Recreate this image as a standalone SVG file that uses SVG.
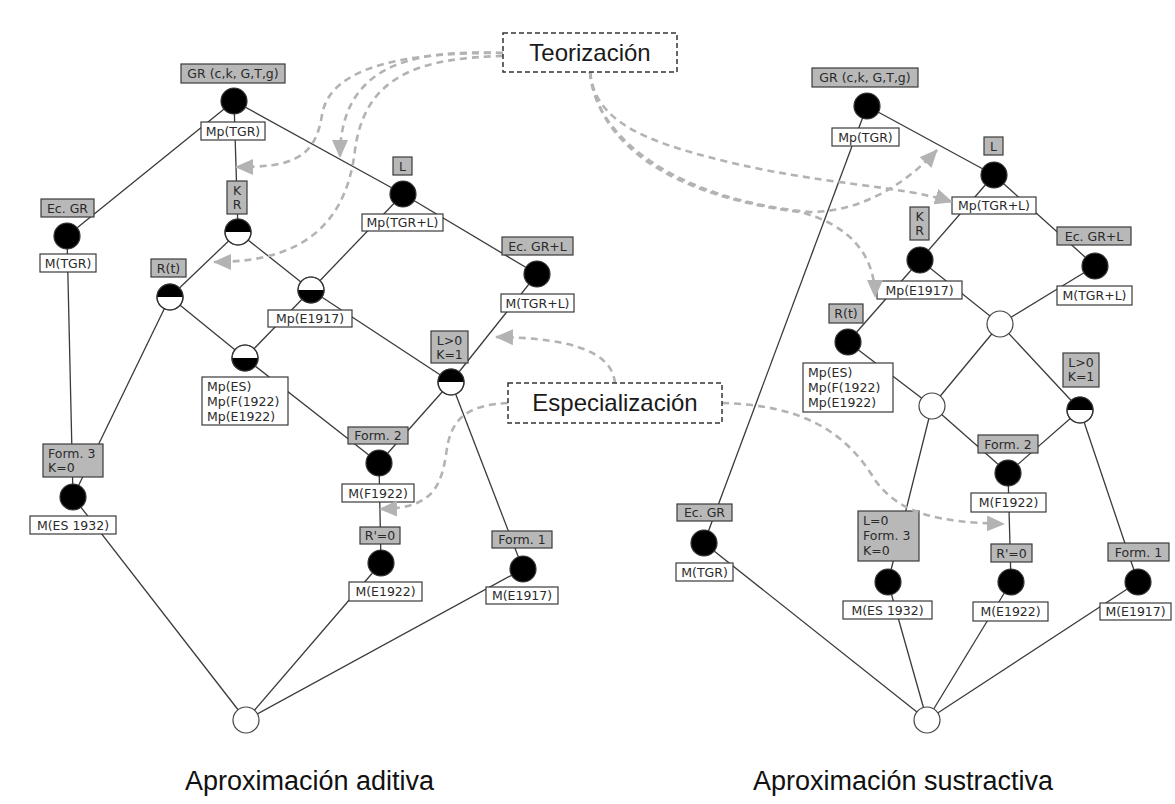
<svg xmlns="http://www.w3.org/2000/svg" width="1175" height="804" viewBox="0 0 1175 804">
<defs>
<style>
.e{stroke:#3a3a3a;stroke-width:1.3;fill:none}
.d{stroke:#b3b3b3;stroke-width:2.6;fill:none;stroke-dasharray:7 5}
.gl{fill:#b8b8b8;stroke:#3a3a3a;stroke-width:1.2}
.wl{fill:#fff;stroke:#3a3a3a;stroke-width:1.2}
.t{font-family:"DejaVu Sans",sans-serif;font-size:12.5px;fill:#2a2a2a;text-anchor:middle}
.tl{font-family:"DejaVu Sans",sans-serif;font-size:12.5px;fill:#2a2a2a}
.bk{fill:#000;stroke:#333;stroke-width:1.2}
.wh{fill:#fff;stroke:#444;stroke-width:1.2}
.hb{fill:#000}
.box{fill:#fff;stroke:#333;stroke-width:1.5;stroke-dasharray:5 3}
.big{font-family:"Liberation Sans",Arial,sans-serif;font-size:24px;fill:#1a1a1a;text-anchor:middle}
.cap{font-family:"Liberation Sans",Arial,sans-serif;font-size:27px;fill:#111}
</style>
<marker id="ah" markerUnits="userSpaceOnUse" markerWidth="18" markerHeight="16" refX="17" refY="8" orient="auto"><path d="M0,0 L18,8 L0,16 Z" fill="#b3b3b3"/></marker>
</defs>
<rect width="1175" height="804" fill="#fff"/>

<g id="connectors">
<line class="e" x1="234" y1="101" x2="67" y2="236"/>
<line class="e" x1="234" y1="101" x2="238" y2="232"/>
<line class="e" x1="234" y1="101" x2="403" y2="194"/>
<line class="e" x1="67" y1="236" x2="73" y2="497"/>
<line class="e" x1="238" y1="232" x2="170" y2="297"/>
<line class="e" x1="238" y1="232" x2="311" y2="290"/>
<line class="e" x1="403" y1="194" x2="311" y2="290"/>
<line class="e" x1="403" y1="194" x2="537" y2="274"/>
<line class="e" x1="170" y1="297" x2="245" y2="358"/>
<line class="e" x1="170" y1="297" x2="73" y2="497"/>
<line class="e" x1="311" y1="290" x2="245" y2="358"/>
<line class="e" x1="311" y1="290" x2="451" y2="382"/>
<line class="e" x1="537" y1="274" x2="451" y2="382"/>
<line class="e" x1="245" y1="358" x2="379" y2="463"/>
<line class="e" x1="451" y1="382" x2="379" y2="463"/>
<line class="e" x1="451" y1="382" x2="523" y2="569"/>
<line class="e" x1="379" y1="463" x2="381" y2="563"/>
<line class="e" x1="73" y1="497" x2="246" y2="720"/>
<line class="e" x1="381" y1="563" x2="246" y2="720"/>
<line class="e" x1="523" y1="569" x2="246" y2="720"/>
<line class="e" x1="867" y1="106" x2="704" y2="543"/>
<line class="e" x1="867" y1="106" x2="994" y2="175"/>
<line class="e" x1="994" y1="175" x2="920" y2="260"/>
<line class="e" x1="994" y1="175" x2="1095" y2="266"/>
<line class="e" x1="920" y1="260" x2="848" y2="342"/>
<line class="e" x1="920" y1="260" x2="1000" y2="324"/>
<line class="e" x1="1095" y1="266" x2="1000" y2="324"/>
<line class="e" x1="848" y1="342" x2="932" y2="406"/>
<line class="e" x1="1000" y1="324" x2="932" y2="406"/>
<line class="e" x1="1000" y1="324" x2="1080" y2="410"/>
<line class="e" x1="932" y1="406" x2="888" y2="582"/>
<line class="e" x1="932" y1="406" x2="1008" y2="473"/>
<line class="e" x1="1080" y1="410" x2="1008" y2="473"/>
<line class="e" x1="1080" y1="410" x2="1138" y2="582"/>
<line class="e" x1="1008" y1="473" x2="1011" y2="582"/>
<line class="e" x1="704" y1="543" x2="927" y2="720"/>
<line class="e" x1="888" y1="582" x2="927" y2="720"/>
<line class="e" x1="1011" y1="582" x2="927" y2="720"/>
<line class="e" x1="1138" y1="582" x2="927" y2="720"/>
</g>

<g id="node-A"><circle class="bk" cx="234" cy="101" r="13"/><rect class="gl" x="181" y="64" width="104" height="19"/><text class="t" x="233" y="78">GR (c,k, G,T,g)</text><rect class="wl" x="201" y="122" width="64" height="18"/><text class="t" x="233" y="135.5">Mp(TGR)</text></g>
<g id="node-B"><circle class="bk" cx="67" cy="236" r="13"/><rect class="gl" x="41" y="199" width="53" height="18"/><text class="t" x="67.5" y="212.5">Ec. GR</text><rect class="wl" x="40" y="254" width="56" height="18"/><text class="t" x="68" y="267.5">M(TGR)</text></g>
<g id="node-C"><circle class="wh" cx="238" cy="232" r="13"/><path class="hb" d="M225,232 A13,13 0 0 1 251,232 Z"/><circle cx="238" cy="232" r="13" fill="none" stroke="#333" stroke-width="1.2"/><rect class="gl" x="227" y="181" width="20" height="33"/><text class="t" x="237" y="195">K</text><text class="t" x="237" y="209">R</text></g>
<g id="node-D"><circle class="bk" cx="403" cy="194" r="13"/><rect class="gl" x="393" y="157" width="19" height="18"/><text class="t" x="402.5" y="170.5">L</text><rect class="wl" x="362" y="214" width="81" height="17"/><text class="t" x="402.5" y="227">Mp(TGR+L)</text></g>
<g id="node-E"><circle class="wh" cx="170" cy="297" r="13"/><path class="hb" d="M157,297 A13,13 0 0 1 183,297 Z"/><circle cx="170" cy="297" r="13" fill="none" stroke="#333" stroke-width="1.2"/><rect class="gl" x="151" y="259" width="35" height="18"/><text class="t" x="168.5" y="272.5">R(t)</text></g>
<g id="node-F"><circle class="wh" cx="311" cy="290" r="13"/><path class="hb" d="M298,290 A13,13 0 0 0 324,290 Z"/><circle cx="311" cy="290" r="13" fill="none" stroke="#333" stroke-width="1.2"/><rect class="wl" x="268" y="310" width="84" height="17"/><text class="t" x="310" y="323">Mp(E1917)</text></g>
<g id="node-G"><circle class="bk" cx="537" cy="274" r="13"/><rect class="gl" x="502" y="237" width="71" height="18"/><text class="t" x="537.5" y="250.5">Ec. GR+L</text><rect class="wl" x="501" y="294" width="73" height="18"/><text class="t" x="537.5" y="307.5">M(TGR+L)</text></g>
<g id="node-H"><circle class="wh" cx="245" cy="358" r="13"/><path class="hb" d="M232,358 A13,13 0 0 0 258,358 Z"/><circle cx="245" cy="358" r="13" fill="none" stroke="#333" stroke-width="1.2"/><rect class="wl" x="202" y="377" width="86" height="48"/><text class="tl" x="207" y="391">Mp(ES)</text><text class="tl" x="207" y="406">Mp(F(1922)</text><text class="tl" x="207" y="421">Mp(E1922)</text></g>
<g id="node-I"><circle class="wh" cx="451" cy="382" r="13"/><path class="hb" d="M438,382 A13,13 0 0 1 464,382 Z"/><circle cx="451" cy="382" r="13" fill="none" stroke="#333" stroke-width="1.2"/><rect class="gl" x="431" y="331" width="37" height="32"/><text class="t" x="449.5" y="344.5">L&gt;0</text><text class="t" x="449.5" y="358.5">K=1</text></g>
<g id="node-J"><circle class="bk" cx="73" cy="497" r="13"/><rect class="gl" x="43" y="444" width="60" height="33"/><text class="tl" x="48" y="457.5">Form. 3</text><text class="tl" x="48" y="471.5">K=0</text><rect class="wl" x="30" y="516" width="86" height="18"/><text class="t" x="73" y="529.5">M(ES 1932)</text></g>
<g id="node-K"><circle class="bk" cx="379" cy="463" r="13"/><rect class="gl" x="348" y="427" width="60" height="17"/><text class="t" x="378" y="440">Form. 2</text><rect class="wl" x="342" y="484" width="72" height="18"/><text class="t" x="378" y="497.5">M(F1922)</text></g>
<g id="node-L"><circle class="bk" cx="381" cy="563" r="13"/><rect class="gl" x="360" y="527" width="40" height="17"/><text class="t" x="380" y="540">R'=0</text><rect class="wl" x="349" y="582" width="73" height="19"/><text class="t" x="385.5" y="596">M(E1922)</text></g>
<g id="node-M"><circle class="bk" cx="523" cy="569" r="13"/><rect class="gl" x="492" y="531" width="60" height="17"/><text class="t" x="522" y="544">Form. 1</text><rect class="wl" x="486" y="587" width="72" height="17"/><text class="t" x="522" y="600">M(E1917)</text></g>
<g id="node-Z"><circle class="wh" cx="246" cy="720" r="13"/></g>

<g id="node-A2"><circle class="bk" cx="867" cy="106" r="13"/><rect class="gl" x="812" y="68" width="106" height="19"/><text class="t" x="865" y="82">GR (c,k, G,T,g)</text><rect class="wl" x="832" y="128" width="67" height="18"/><text class="t" x="865.5" y="141.5">Mp(TGR)</text></g>
<g id="node-D2"><circle class="bk" cx="994" cy="175" r="13"/><rect class="gl" x="984" y="137" width="19" height="18"/><text class="t" x="993.5" y="150.5">L</text><rect class="wl" x="952" y="197" width="84" height="17"/><text class="t" x="994" y="210">Mp(TGR+L)</text></g>
<g id="node-C2"><circle class="bk" cx="920" cy="260" r="13"/><rect class="gl" x="910" y="207" width="19" height="33"/><text class="t" x="919.5" y="221">K</text><text class="t" x="919.5" y="235">R</text><rect class="wl" x="877" y="281" width="85" height="18"/><text class="t" x="919.5" y="294.5">Mp(E1917)</text></g>
<g id="node-G2"><circle class="bk" cx="1095" cy="266" r="13"/><rect class="gl" x="1057" y="227" width="74" height="18"/><text class="t" x="1094" y="240.5">Ec. GR+L</text><rect class="wl" x="1057" y="286" width="75" height="19"/><text class="t" x="1094.5" y="300">M(TGR+L)</text></g>
<g id="node-N2"><circle class="wh" cx="1000" cy="324" r="13"/></g>
<g id="node-E2"><circle class="bk" cx="848" cy="342" r="13"/><rect class="gl" x="829" y="304" width="34" height="19"/><text class="t" x="846" y="318">R(t)</text><rect class="wl" x="803" y="363" width="90" height="49"/><text class="tl" x="808" y="377">Mp(ES)</text><text class="tl" x="808" y="392">Mp(F(1922)</text><text class="tl" x="808" y="407">Mp(E1922)</text></g>
<g id="node-O2"><circle class="wh" cx="932" cy="406" r="13"/></g>
<g id="node-I2"><circle class="wh" cx="1080" cy="410" r="13"/><path class="hb" d="M1067,410 A13,13 0 0 1 1093,410 Z"/><circle cx="1080" cy="410" r="13" fill="none" stroke="#333" stroke-width="1.2"/><rect class="gl" x="1063" y="353" width="36" height="34"/><text class="t" x="1081" y="367">L&gt;0</text><text class="t" x="1081" y="381">K=1</text></g>
<g id="node-B2"><circle class="bk" cx="704" cy="543" r="13"/><rect class="gl" x="677" y="504" width="55" height="17"/><text class="t" x="704.5" y="517">Ec. GR</text><rect class="wl" x="676" y="563" width="57" height="18"/><text class="t" x="704.5" y="576.5">M(TGR)</text></g>
<g id="node-J2"><circle class="bk" cx="888" cy="582" r="13"/><rect class="gl" x="858" y="511" width="61" height="50"/><text class="tl" x="863" y="525">L=0</text><text class="tl" x="863" y="540">Form. 3</text><text class="tl" x="863" y="555">K=0</text><rect class="wl" x="843" y="601" width="89" height="18"/><text class="t" x="887.5" y="614.5">M(ES 1932)</text></g>
<g id="node-K2"><circle class="bk" cx="1008" cy="473" r="13"/><rect class="gl" x="978" y="435" width="60" height="18"/><text class="t" x="1008" y="448.5">Form. 2</text><rect class="wl" x="971" y="493" width="75" height="19"/><text class="t" x="1008.5" y="507">M(F1922)</text></g>
<g id="node-L2"><circle class="bk" cx="1011" cy="582" r="13"/><rect class="gl" x="991" y="544" width="41" height="18"/><text class="t" x="1011.5" y="557.5">R'=0</text><rect class="wl" x="973" y="602" width="75" height="19"/><text class="t" x="1010.5" y="616">M(E1922)</text></g>
<g id="node-M2"><circle class="bk" cx="1138" cy="582" r="13"/><rect class="gl" x="1108" y="543" width="61" height="18"/><text class="t" x="1138.5" y="556.5">Form. 1</text><rect class="wl" x="1100" y="603" width="71" height="17"/><text class="t" x="1135.5" y="616">M(E1917)</text></g>
<g id="node-Z2"><circle class="wh" cx="927" cy="720" r="13"/></g>

<g id="annotation-arrows">
<path class="d" marker-end="url(#ah)" d="M503,53 C420,50 340,60 340,157"/>
<path class="d" marker-end="url(#ah)" d="M503,53 C410,52 330,65 322,115 C315,160 290,167 236,167"/>
<path class="d" marker-end="url(#ah)" d="M503,56 C420,58 365,75 355,150 C345,235 290,262 214,262"/>
<path class="d" marker-end="url(#ah)" d="M590,72 C595,120 640,140 720,160 C820,185 900,185 952,202"/>
<path class="d" marker-end="url(#ah)" d="M590,72 C595,140 680,200 810,212 C860,212 905,185 937,150"/>
<path class="d" marker-end="url(#ah)" d="M590,72 C600,160 700,200 800,212 C850,225 875,255 875,297"/>
<path class="d" marker-end="url(#ah)" d="M615,383 C612,355 580,338 496,337"/>
<path class="d" marker-end="url(#ah)" d="M508,403 C465,405 450,420 446,455 C440,495 425,508 380,509"/>
<path class="d" marker-end="url(#ah)" d="M722,403 C800,405 845,430 875,480 C900,515 940,522 1004,524"/>
</g>

<g id="teorizacion"><rect class="box" x="503" y="33" width="174" height="39"/><text class="big" x="590" y="61">Teorización</text></g>
<g id="especializacion"><rect class="box" x="508" y="383" width="214" height="40"/><text class="big" x="615" y="411">Especialización</text></g>

<text class="cap" x="185" y="790">Aproximación aditiva</text>
<text class="cap" x="753" y="790">Aproximación sustractiva</text>
</svg>
